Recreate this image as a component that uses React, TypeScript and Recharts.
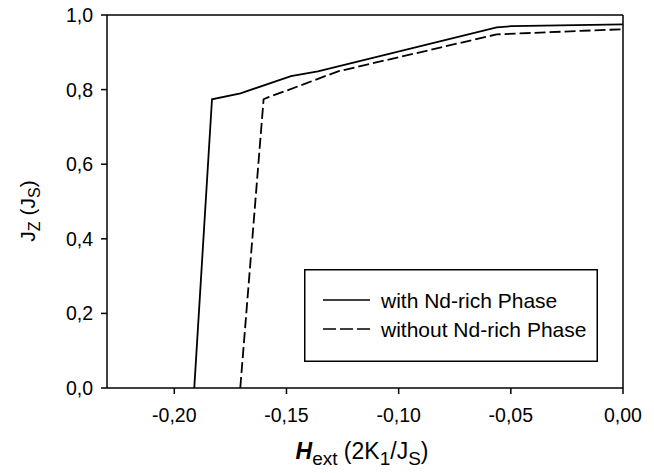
import React from 'react';
import { LineChart, Line, XAxis, YAxis, ReferenceLine, Legend } from 'recharts';

const hWith = [-0.1911, -0.1832, -0.1705, -0.148, -0.136, -0.0563, -0.0496, 0.0];
const jWith = [0, 0.774, 0.79, 0.836, 0.849, 0.967, 0.97, 0.975];
const hWithout = [-0.1706, -0.1602, -0.158, -0.1496, -0.127, -0.0563, 0.0];
const jWithout = [0, 0.774, 0.78, 0.798, 0.849, 0.948, 0.962];
const xTicks = [-0.2, -0.15, -0.1, -0.05, 0];
const yTicks = [0, 0.2, 0.4, 0.6, 0.8, 1.0];
const seriesNames = ['with Nd-rich Phase', 'without Nd-rich Phase'];

const withData = hWith.map((h, i) => ({ h, j: jWith[i] }));
const withoutData = hWithout.map((h, i) => ({ h, j: jWithout[i] }));

const FONT = 'Arial, "Liberation Sans", Helvetica, sans-serif';

const fmtX = (v: number) => (Math.abs(v) < 1e-9 ? '0,00' : v.toFixed(2).replace('.', ','));
const fmtY = (v: number) => v.toFixed(1).replace('.', ',');

const LegendBox = () => (
  <svg width={294} height={93} style={{ display: 'block' }}>
    <rect x={0.75} y={0.75} width={292.5} height={91.5} fill="#fff" stroke="#000" strokeWidth={1.5} />
    <line x1={19} y1={31} x2={66} y2={31} stroke="#000" strokeWidth={1.6} />
    <line x1={19} y1={60} x2={66} y2={60} stroke="#000" strokeWidth={1.6} strokeDasharray="13 4" />
    <text x={77} y={31} dominantBaseline="central" fontSize={21} fontFamily={FONT} fill="#000">
      {seriesNames[0]}
    </text>
    <text x={77} y={60} dominantBaseline="central" fontSize={21} fontFamily={FONT} fill="#000">
      {seriesNames[1]}
    </text>
  </svg>
);

const XLabel = () => (
  <text x={362} y={459} textAnchor="middle" fontSize={23} fontFamily={FONT} fill="#000">
    <tspan fontWeight="bold" fontStyle="italic">H</tspan>
    <tspan dy={6} fontSize={19}>ext</tspan>
    <tspan dy={-6}> (2K</tspan>
    <tspan dy={6} fontSize={19}>1</tspan>
    <tspan dy={-6}>/J</tspan>
    <tspan dy={6} fontSize={19}>S</tspan>
    <tspan dy={-6}>)</tspan>
  </text>
);

const YLabel = () => (
  <text
    transform="rotate(-90)"
    x={-211}
    y={35}
    textAnchor="middle"
    fontSize={21}
    fontFamily={FONT}
    fill="#000"
  >
    <tspan>J</tspan>
    <tspan dy={5} fontSize={16}>Z</tspan>
    <tspan dy={-5}> (J</tspan>
    <tspan dy={5} fontSize={16}>S</tspan>
    <tspan dy={-5}>)</tspan>
  </text>
);

export default function App() {
  return (
    <div style={{ position: 'absolute', left: 0, top: 0, width: 654, height: 473, background: '#fff' }}>
      <LineChart width={654} height={473} margin={{ top: 15, right: 31, bottom: 0, left: 0 }}>
        <XAxis
          type="number"
          dataKey="h"
          domain={[-0.23, 0]}
          ticks={xTicks}
          tickFormatter={fmtX}
          allowDataOverflow
          height={85}
          stroke="#000"
          strokeWidth={1.5}
          tickSize={6}
          tickMargin={14}
          tick={{ fill: '#000', fontSize: 19.5, fontFamily: FONT }}
          label={{ content: () => <XLabel /> }}
        />
        <YAxis
          type="number"
          dataKey="j"
          domain={[0, 1]}
          ticks={yTicks}
          tickFormatter={fmtY}
          width={107}
          stroke="#000"
          strokeWidth={1.5}
          tickSize={6}
          tickMargin={8}
          tick={{ fill: '#000', fontSize: 19.5, fontFamily: FONT }}
          label={{ content: () => <YLabel /> }}
        />
        <ReferenceLine y={1} stroke="#000" strokeWidth={1.5} />
        <ReferenceLine x={0} stroke="#000" strokeWidth={1.5} />
        <Line
          data={withData}
          dataKey="j"
          name={seriesNames[0]}
          type="linear"
          stroke="#000"
          strokeWidth={1.8}
          dot={false}
          isAnimationActive={false}
        />
        <Line
          data={withoutData}
          dataKey="j"
          name={seriesNames[1]}
          type="linear"
          stroke="#000"
          strokeWidth={1.8}
          strokeDasharray="11 4"
          dot={false}
          isAnimationActive={false}
        />
        <Legend
          layout="horizontal"
          verticalAlign="middle"
          content={() => <LegendBox />}
          wrapperStyle={{ position: 'absolute', left: 304, top: 269, width: 294, height: 93 }}
        />
      </LineChart>
    </div>
  );
}
